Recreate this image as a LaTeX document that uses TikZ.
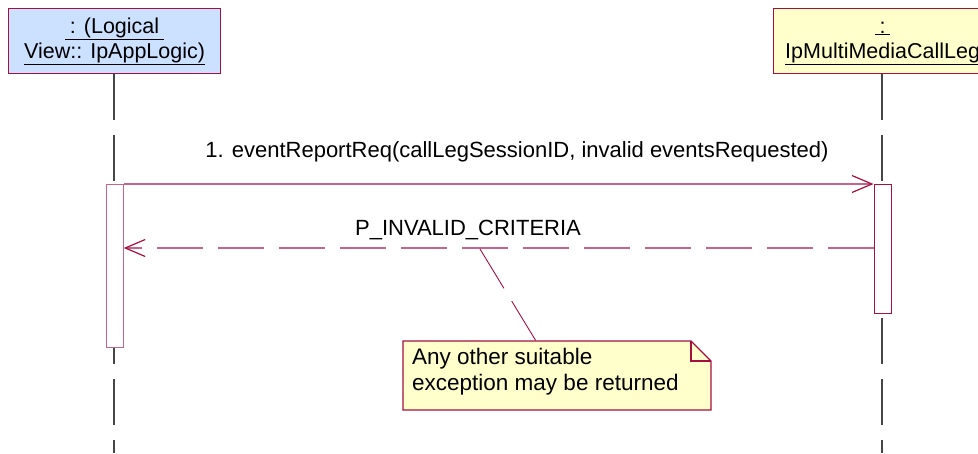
\documentclass[tikz,border=0pt]{standalone}
\usepackage{fontspec}
\setmainfont{Liberation Sans}
\usetikzlibrary{arrows.meta,calc}
\definecolor{umlred}{RGB}{163,16,64}
\definecolor{umlpink}{RGB}{200,100,140}
\definecolor{umlblue}{RGB}{204,224,255}
\definecolor{umlyellow}{RGB}{255,255,204}
\definecolor{lifegray}{RGB}{70,70,70}
\tikzset{
  objbox/.style={draw=umlred, line width=1.2pt, minimum height=65pt, inner sep=0pt, anchor=north west, align=center, font=\fontsize{21.5}{25}\selectfont},
  lifeline/.style={draw=lifegray, line width=1.1pt, dash pattern=on 46pt off 15pt},
  actbox/.style={draw=umlpink, fill=white, line width=1.2pt, minimum width=17pt, inner sep=0pt, anchor=north west},
  msg/.style={draw=umlpink, line width=1.2pt, -{Straight Barb[length=20pt,width=17pt,line width=1.2pt,color=umlred]}},
  retmsg/.style={msg, dash pattern=on 46pt off 15pt},
  lbl/.style={font=\fontsize{22}{26}\selectfont, inner sep=0pt},
  notebox/.style={draw=umlred, fill=umlyellow, line width=1.2pt},
}
\begin{document}
\begin{tikzpicture}[x=1pt,y=-1pt]
\useasboundingbox (0,0) rectangle (978,453);
% object boxes
\node[objbox, fill=umlblue, minimum width=212pt] (objL) at (8,8) {\underline{\phantom{i}: (Logical\phantom{i}}\\\underline{View:: IpAppLogic)}};
\node[objbox, fill=umlyellow, minimum width=218pt] (objR) at (773,8) {\underline{\phantom{i}:\phantom{i}}\\\underline{IpMultiMediaCallLeg}};
% lifelines
\coordinate (endL) at (114,453);
\coordinate (endR) at (882,453);
\draw[lifeline] (objL.south -| endL) -- (endL);
\draw[lifeline] (objR.south -| endR) -- (endR);
% activation boxes
\node[actbox, minimum height=163pt] (actL) at (105.5,184) {};
\node[actbox, minimum height=129pt, draw=umlred] (actR) at (873.5,184) {};
% messages
\draw[msg] (actL.north east) -- (actR.north west);
\node[lbl] (m1) at (517,152) {1. eventReportReq(callLegSessionID, invalid eventsRequested)};
\coordinate (retR) at ($(actR.north west)+(0,64)$);
\coordinate (retL) at (retR -| actL.east);
\draw[retmsg] (retR) -- (retL);
\node[lbl] (m2) at (468,230) {P\_INVALID\_CRITERIA};
% note
\coordinate (nA) at (403,341);
\coordinate (nB) at (691,341);
\coordinate (nC) at (711,361);
\coordinate (nD) at (711,410);
\coordinate (nE) at (403,410);
\filldraw[notebox] (nA) -- (nB) -- (nC) -- (nD) -- (nE) -- cycle;
\draw[draw=umlred, line width=1.2pt] (nB) -- (nB |- nC) -- (nC);
\node[lbl, anchor=north west, align=left, font=\fontsize{22.5}{26}\selectfont] (note) at (412,348) {Any other suitable\\exception may be returned};
\coordinate (anc) at (480,249);
\coordinate (ntop) at (536,341);
\draw[draw=umlred, line width=0.9pt, dash pattern=on 46pt off 15pt] (anc) -- (ntop);
\end{tikzpicture}
\end{document}
